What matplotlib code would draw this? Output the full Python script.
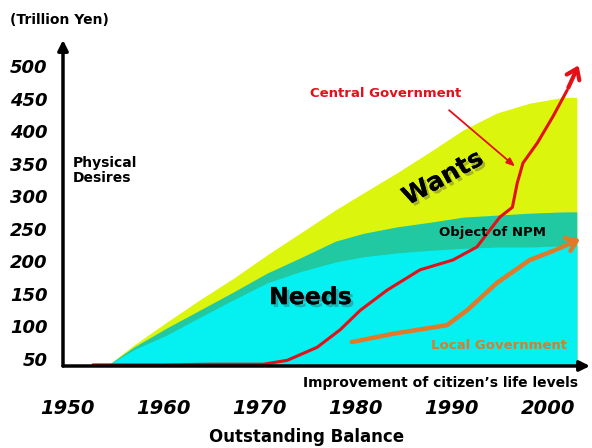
import matplotlib
matplotlib.use("Agg")
import matplotlib.pyplot as plt
import matplotlib.patheffects as pe

# area boundaries (trillion yen)
area_years = [1954.2, 1956.9, 1960.4, 1963.8, 1967.3, 1970.8, 1974.2, 1977.9,
              1980.8, 1984.3, 1987.7, 1991.2, 1994.7, 1998.1, 2001.6, 2003.0]
needs_top = [40, 64, 87, 114, 141, 167, 184, 199, 207, 213, 217, 220, 222, 222, 224, 224]
npm_top = [40, 68, 98, 125, 153, 182, 205, 231, 243, 253, 260, 268, 271, 274, 276, 276]
wants_top = [40, 71, 107, 141, 174, 210, 243, 279, 305, 336, 368, 402, 428, 443, 452, 452]

# outstanding balance lines
central_years = [1952.7, 1960, 1965, 1970.4, 1972.9, 1976.0, 1978.4, 1980.5, 1983.3, 1986.7,
                 1990.1, 1992.6, 1995.0, 1996.3, 1996.8, 1997.4, 1998.9, 2000.5, 2002.0]
central_vals = [41, 41, 42, 42, 48, 68, 95, 125, 156, 187,
                202, 222, 268, 283, 320, 351, 382, 422, 463]
central_tip = (2003.3, 505)

local_years = [1979.6, 1984, 1989.5, 1991.6, 1994.7, 1998.1, 2000.7]
local_vals = [76, 89, 102, 125, 167, 202, 217]
local_tip = (2003.6, 236)

y_ticks = [50, 100, 150, 200, 250, 300, 350, 400, 450, 500]
x_ticks = [1950, 1960, 1970, 1980, 1990, 2000]

YELLOW = "#dcf50c"
GREEN = "#20c9a2"
CYAN = "#05f0f0"
RED = "#e41018"
ORANGE = "#e07a28"

fig = plt.figure(figsize=(5.92, 4.48), dpi=100)
ax = fig.add_axes([63 / 592, 1 - 366 / 448, (590 - 63) / 592, (366 - 40) / 448])
ybot = 39.25
ax.set_xlim(1949.58, 2004.37)
ax.set_ylim(ybot, 540)

ax.fill_between(area_years, ybot, wants_top, color=YELLOW, lw=0)
ax.fill_between(area_years, ybot, npm_top, color=GREEN, lw=0)
ax.fill_between(area_years, ybot, needs_top, color=CYAN, lw=0)

ax.plot(central_years, central_vals, color=RED, lw=2.2, solid_capstyle="round", solid_joinstyle="round")
ax.annotate("", xy=central_tip, xytext=(central_years[-1], central_vals[-1]),
            arrowprops=dict(arrowstyle="->,head_length=0.7,head_width=0.5", color=RED, lw=3))
ax.plot(local_years, local_vals, color=ORANGE, lw=3.2, solid_capstyle="round", solid_joinstyle="round")
ax.annotate("", xy=local_tip, xytext=(local_years[-1], local_vals[-1]),
            arrowprops=dict(arrowstyle="->,head_length=0.7,head_width=0.5", color=ORANGE, lw=3.2))

# axes with arrows
for s in ax.spines.values():
    s.set_visible(False)
ax.annotate("", xy=(0, 1), xytext=(0, 0), xycoords="axes fraction",
            arrowprops=dict(arrowstyle="-|>,head_length=0.6,head_width=0.3", color="black", lw=2.5,
                            shrinkA=0, shrinkB=0))
ax.annotate("", xy=(1, 0), xytext=(0, 0), xycoords="axes fraction",
            arrowprops=dict(arrowstyle="-|>,head_length=0.6,head_width=0.3", color="black", lw=2.5,
                            shrinkA=0, shrinkB=0))

ax.set_yticks(y_ticks)
ax.set_yticklabels([str(v) for v in y_ticks], fontsize=13, fontweight="bold", style="italic")
ax.set_xticks(x_ticks)
ax.set_xticklabels([str(v) for v in x_ticks], fontsize=14, fontweight="bold", style="italic")
ax.tick_params(axis="y", length=0, pad=11)
ax.tick_params(axis="x", length=0, pad=24)

shadow = [pe.withSimplePatchShadow(offset=(2, -2), shadow_rgbFace="#444444", alpha=0.35), pe.Normal()]

ax.text(1983.1, 458, "Central Government", color=RED, fontsize=9.5, fontweight="bold",
        ha="center", va="center")
ax.annotate("", xy=(1996.8, 343), xytext=(1989.5, 435),
            arrowprops=dict(arrowstyle="-|>,head_length=0.5,head_width=0.2", color=RED, lw=1.3))
ax.text(1989.1, 328, "Wants", fontsize=18, fontweight="bold", rotation=29,
        ha="center", va="center", path_effects=shadow)
ax.text(1975.3, 145, "Needs", fontsize=17, fontweight="bold",
        ha="center", va="center", path_effects=shadow)
ax.text(1994.2, 245, "Object of NPM", fontsize=9.5, fontweight="bold", ha="center", va="center")
ax.text(1994.9, 71, "Local Government", color=ORANGE, fontsize=9.5, fontweight="bold",
        ha="center", va="center")
ax.text(1950.6, 340, "Physical\nDesires", fontsize=10, fontweight="bold",
        ha="left", va="center", linespacing=1.1)

fig.text(10 / 592, 1 - 20 / 448, "(Trillion Yen)", fontsize=10, fontweight="bold",
         ha="left", va="center")
fig.text(578 / 592, 1 - 383 / 448, "Improvement of citizen\u2019s life levels", fontsize=10,
         fontweight="bold", ha="right", va="center")
fig.text(307 / 592, 1 - 437 / 448, "Outstanding Balance", fontsize=12, fontweight="bold",
         ha="center", va="center")

fig.savefig("out.png", dpi=100)
